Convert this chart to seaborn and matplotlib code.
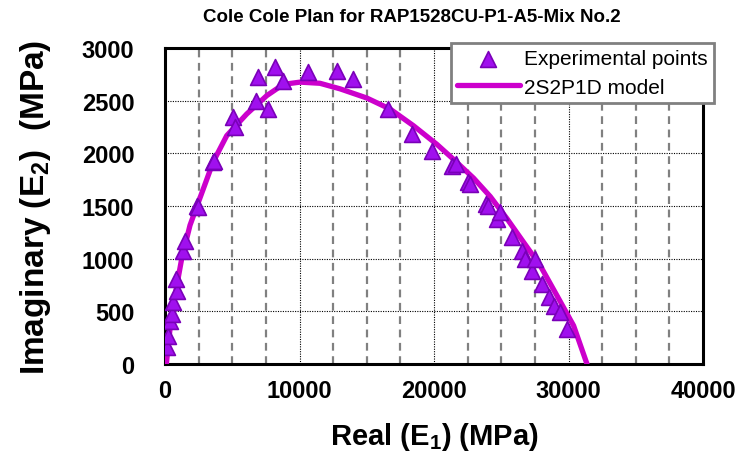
import numpy as np
import pandas as pd
import matplotlib
matplotlib.use('Agg')
import matplotlib.pyplot as plt
from matplotlib.ticker import MultipleLocator
import seaborn as sns

# Experimental Cole-Cole points (E1, E2) in MPa
exp_real = [126, 245, 372, 498, 573, 870, 818, 1361, 1487, 2401, 2450, 3594, 3650,
            5037, 5208, 6771, 6942, 7641, 8185, 8796, 10610, 12810, 14010, 16615,
            18356, 19844, 21332, 21600, 22500, 22641, 23884, 24000, 24680, 24874,
            25796, 26540, 26786, 27283, 27530, 28028, 28519, 28943, 29390, 29888]
exp_imag = [158, 269, 411, 475, 586, 696, 807, 1076, 1171, 1503, 1490, 1915, 1930,
            2342, 2247, 2500, 2722, 2421, 2817, 2690, 2775, 2779, 2706, 2421,
            2184, 2025, 1883, 1899, 1725, 1709, 1519, 1503, 1377, 1440,
            1203, 1076, 997, 886, 997, 760, 633, 553, 491, 332]

# 2S2P1D model curve
model_real = [100, 372, 743, 1242, 1859, 2401, 3591, 4591, 6079, 7567, 8796, 10037,
              11524, 13021, 15007, 16741, 18475, 20216, 21435, 22939, 24182, 25424,
              26659, 27902, 29144, 30379, 31376]
model_imag = [0, 333, 650, 1000, 1317, 1507, 1921, 2168, 2374, 2548, 2655, 2676,
              2665, 2612, 2525, 2420, 2262, 2085, 1945, 1765, 1590, 1380,
              1156, 933, 649, 364, 0]

exp_df = pd.DataFrame({'E1': exp_real, 'E2': exp_imag})
model_df = pd.DataFrame({'E1': model_real, 'E2': model_imag})

sns.set_style('white')
plt.rcParams['font.family'] = ['Liberation Sans', 'DejaVu Sans']
plt.rcParams['text.color'] = 'black'
plt.rcParams['axes.labelcolor'] = 'black'
plt.rcParams['xtick.color'] = 'black'
plt.rcParams['ytick.color'] = 'black'
plt.rcParams['mathtext.fontset'] = 'custom'
plt.rcParams['mathtext.rm'] = 'Liberation Sans:bold'
plt.rcParams['mathtext.bf'] = 'Liberation Sans:bold'
plt.rcParams['mathtext.default'] = 'bf'

fig = plt.figure(figsize=(7.44, 4.6), dpi=100)
ax = fig.add_axes([165 / 744, 1 - 365 / 460, 538 / 744, 316 / 460])

sns.lineplot(data=model_df, x='E1', y='E2', sort=False, estimator=None,
             color='#CC00CC', linewidth=3.8, label='2S2P1D model', ax=ax, zorder=3)
sns.scatterplot(data=exp_df, x='E1', y='E2', marker='^', s=130,
                color='#A010EE', edgecolor='#7A00B8', linewidth=1.2,
                label='Experimental points', ax=ax, zorder=4)

ax.set_xlim(0, 40000)
ax.set_ylim(0, 3000)
ax.xaxis.set_major_locator(MultipleLocator(10000))
ax.xaxis.set_minor_locator(MultipleLocator(2500))
ax.yaxis.set_major_locator(MultipleLocator(500))

# grid
ax.grid(which='major', axis='both', color='black', linestyle=(0, (1, 1.2)), linewidth=0.8)
ax.grid(which='minor', axis='x', color='#808080', linestyle=(0, (3.5, 2.5)), linewidth=1.6)
ax.set_axisbelow(True)

for sp in ax.spines.values():
    sp.set_color('black')
    sp.set_linewidth(2.2)

ax.tick_params(axis='x', which='major', direction='inout', length=8, width=1, colors='black',
               labelsize=17, pad=7)
ax.tick_params(axis='x', which='minor', direction='in', length=5, width=1, color='#404040')
ax.tick_params(axis='y', which='major', direction='out', length=8, width=1, color='#606060',
               labelcolor='black', labelsize=17, pad=14)
for lab in ax.get_xticklabels() + ax.get_yticklabels():
    lab.set_fontweight('bold')

ax.set_xlabel('Real (E$_1$) (MPa)', fontsize=21, fontweight='bold', labelpad=13)
ax.set_ylabel('Imaginary (E$_2$)  (MPa)', fontsize=24, fontweight='bold', labelpad=21)

fig.text(0.554, 0.963, 'Cole Cole Plan for RAP1528CU-P1-A5-Mix No.2',
         ha='center', va='center', fontsize=13.5, fontweight='bold')

handles, labels = ax.get_legend_handles_labels()
order = [labels.index('Experimental points'), labels.index('2S2P1D model')]
leg = ax.legend([handles[i] for i in order], [labels[i] for i in order],
                loc='upper right', bbox_to_anchor=(1.02, 1.016), borderaxespad=0,
                fontsize=15, frameon=True, fancybox=False, handlelength=3.0,
                handletextpad=0.2, borderpad=0.3, labelspacing=0.45)
leg.get_frame().set_edgecolor('#808080')
leg.get_frame().set_linewidth(2)
leg.get_frame().set_alpha(1)

fig.savefig('out.png', dpi=100)
